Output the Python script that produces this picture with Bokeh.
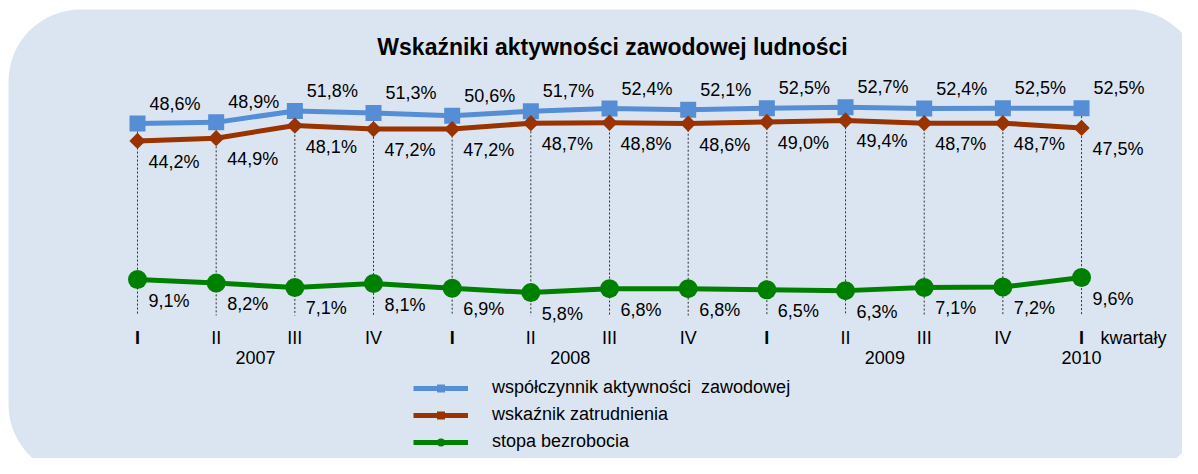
from bokeh.plotting import figure
from bokeh.models import Range1d, ColumnDataSource, Legend, LegendItem, Label
from bokeh.core.properties import value
from bokeh.embed import file_html
from bokeh.resources import INLINE

# ---- data ----
quarters = ["I", "II", "III", "IV", "I", "II", "III", "IV", "I", "II", "III", "IV", "I"]
quarter_year = ["2007"] * 4 + ["2008"] * 4 + ["2009"] * 4 + ["2010"]
years = ["2007", "2008", "2009", "2010"]
activity = [48.6, 48.9, 51.8, 51.3, 50.6, 51.7, 52.4, 52.1, 52.5, 52.7, 52.4, 52.5, 52.5]
employment = [44.2, 44.9, 48.1, 47.2, 47.2, 48.7, 48.8, 48.6, 49.0, 49.4, 48.7, 48.7, 47.5]
unemployment = [9.1, 8.2, 7.1, 8.1, 6.9, 5.8, 6.8, 6.8, 6.5, 6.3, 7.1, 7.2, 9.6]
series_names = ["współczynnik aktywności  zawodowej", "wskaźnik zatrudnienia", "stopa bezrobocia"]
title_text = "Wskaźniki aktywności zawodowej ludności"
axis_unit = "kwartały"

FONT = "Liberation Sans"
BLUE, BROWN, GREEN = "#558ED5", "#993300", "#008000"
BG = "#DBE5F1"

def fmt(v):
    return f"{v:.1f}".replace(".", ",") + "%"

xs = list(range(len(quarters)))

p = figure(width=1182, height=458, output_backend="svg", toolbar_location=None,
           x_range=Range1d(-1.7415, 13.2833), y_range=Range1d(-36.2, 79.75),
           min_border=0, outline_line_color=None,
           background_fill_color="white", border_fill_color="white")
p.xaxis.visible = False
p.yaxis.visible = False
p.grid.visible = False

# rounded panel background
p.quad(left=[-1.64], right=[13.512], top=[77.47], bottom=[-40.76],
       fill_color=BG, line_color=None, border_radius=72)

# dotted drop lines
p.segment(x0=xs, y0=activity, x1=xs, y1=[0] * len(xs),
          line_color="#303030", line_width=1, line_dash="2 2")

src = ColumnDataSource(dict(x=xs, a=activity, e=employment, u=unemployment,
                            la=[fmt(v) for v in activity],
                            le=[fmt(v) for v in employment],
                            lu=[fmt(v) for v in unemployment]))

la = p.line("x", "a", source=src, line_color=BLUE, line_width=5, line_join="round")
le = p.line("x", "e", source=src, line_color=BROWN, line_width=5, line_join="round")
lu = p.line("x", "u", source=src, line_color=GREEN, line_width=5, line_join="round")
sa = p.scatter("x", "a", source=src, marker="square", size=16, fill_color=BLUE, line_color=None)
se = p.scatter("x", "e", source=src, marker="square", size=11.5, angle=0.785398,
               fill_color=BROWN, line_color=None)
su = p.scatter("x", "u", source=src, marker="circle", size=19, fill_color=GREEN, line_color=None)

common = dict(text_font=value(FONT), text_font_size="18px", text_color="black",
              text_align="left", text_baseline="middle")
p.text("x", "a", text="la", source=src, x_offset=12, y_offset=-20, **common)
p.text("x", "e", text="le", source=src, x_offset=11, y_offset=21, **common)
p.text("x", "u", text="lu", source=src, x_offset=11, y_offset=21, **common)

# category axis labels
tick_src = ColumnDataSource(dict(x=xs, y=[0] * len(xs), t=quarters,
                                 st=["bold" if q == "I" else "normal" for q in quarters]))
p.text("x", "y", text="t", source=tick_src, text_font=value(FONT), text_font_size="18px",
       text_color="black", text_font_style="st", text_align="center",
       text_baseline="middle", y_offset=22)
year_x = [sum(i for i, y in enumerate(quarter_year) if y == yr) /
          quarter_year.count(yr) for yr in years]
p.text(year_x, [0] * len(years), text=years, text_font=value(FONT), text_font_size="18px",
       text_color="black", text_align="center", text_baseline="middle", y_offset=42)
p.text([xs[-1]], [0], text=[axis_unit], text_font=value(FONT), text_font_size="18px",
       text_color="black", text_align="left", text_baseline="middle",
       x_offset=19, y_offset=22)

# title
p.add_layout(Label(x=612, y=412, x_units="screen", y_units="screen", text=title_text,
                   text_font=FONT, text_font_size="23px", text_font_style="bold",
                   text_color="black", text_align="center", text_baseline="middle"))

# legend
items = [LegendItem(label=series_names[0], renderers=[la, sa]),
         LegendItem(label=series_names[1], renderers=[le, se]),
         LegendItem(label=series_names[2], renderers=[lu, su])]
legend = Legend(items=items, location=(413, 6), glyph_width=55, glyph_height=20,
                label_height=20, spacing=6, label_standoff=24, padding=0, margin=0,
                border_line_color=None, background_fill_alpha=0,
                label_text_font=FONT, label_text_font_size="18px",
                label_text_color="black")
p.add_layout(legend, "center")

open("out.html", "w").write(file_html(p, INLINE))
